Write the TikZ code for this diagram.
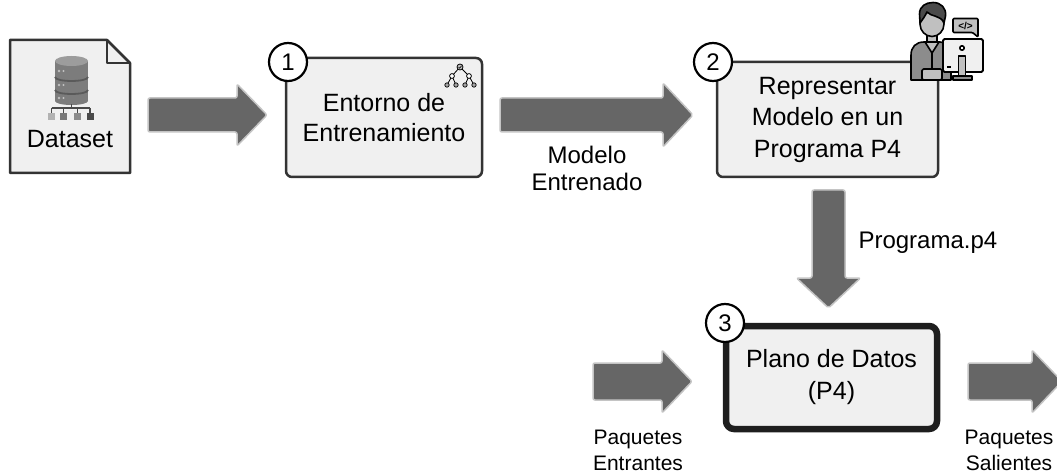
\documentclass[tikz,border=0pt]{standalone}
\usepackage{fontspec}
\setmainfont{Liberation Sans}
\usetikzlibrary{calc}

\definecolor{boxfill}{HTML}{F0F0F0}
\definecolor{boxline}{HTML}{333333}
\definecolor{planeline}{HTML}{1E1E1E}
\definecolor{arrowfill}{HTML}{666666}
\definecolor{arrowedge}{HTML}{C4C4C4}
\definecolor{iconlight}{HTML}{C0C0C0}
\definecolor{iconmid}{HTML}{8C8C8C}
\definecolor{icondark}{HTML}{4A4A4A}
\definecolor{cylbody}{HTML}{7C7C7C}
\definecolor{cyltop}{HTML}{9C9C9C}
\definecolor{cylband}{HTML}{5A5A5A}

\tikzset{
  stepbox/.style={draw=boxline, line width=2.5pt, fill=boxfill, rounded corners=6pt,
    inner sep=0pt, align=center},
  numcircle/.style={circle, draw=black, line width=2.2pt, fill=white, minimum size=38pt,
    inner sep=0pt, font=\fontsize{24}{28}\selectfont},
  bigarrow/.style={fill=arrowfill, draw=arrowedge, line width=1.5pt, rounded corners=2pt,
    line join=round},
  bigtext/.style={font=\fontsize{25}{30}\selectfont, align=center},
  midtext/.style={font=\fontsize{24}{27}\selectfont, align=center},
  smalltext/.style={font=\fontsize{21}{26}\selectfont, align=center},
  iconline/.style={draw=black, line width=1.6pt, line join=round},
}

% fat block arrow pointing right: x start, x tip, y centre, body half, head half
\newcommand\fatarrowright[5]{%
  \filldraw[bigarrow] ({#1},{#3-#4}) -- ({#2-30},{#3-#4}) -- ({#2-30},{#3-#5})
    -- ({#2},{#3}) -- ({#2-30},{#3+#5}) -- ({#2-30},{#3+#4}) -- ({#1},{#3+#4}) -- cycle;}
% fat block arrow pointing down: y start, y tip, x centre, body half, head half
\newcommand\fatarrowdown[5]{%
  \filldraw[bigarrow] ({#3-#4},{#1}) -- ({#3-#4},{#2-30}) -- ({#3-#5},{#2-30})
    -- ({#3},{#2}) -- ({#3+#5},{#2-30}) -- ({#3+#4},{#2-30}) -- ({#3+#4},{#1}) -- cycle;}

\begin{document}
\begin{tikzpicture}[x=1pt,y=-1pt]
\useasboundingbox (0,0) rectangle (1057,473);
\clip (0,0) rectangle (1057,473);

% ---------- dataset document ----------
\filldraw[fill=boxfill, draw=boxline, line width=2.5pt, line join=round]
  (10,40) -- (107,40) -- (130,63) -- (130,173) -- (10,173) -- cycle;
\draw[draw=boxline, line width=2.5pt, line join=round] (107,40) -- (107,63) -- (130,63);
\node[bigtext] (dataset) at (70,139) {Dataset};

% database cylinder
\fill[cylbody] (55,61) rectangle (88,101);
\fill[cylbody] (71.5,101) ellipse [x radius=16.5, y radius=4];
\fill[cyltop] (71.5,61) ellipse [x radius=16.5, y radius=5];
\draw[cylband, line width=1.8pt] (55,77) .. controls (55,82.3) and (88,82.3) .. (88,77);
\draw[cylband, line width=1.8pt] (55,90) .. controls (55,95.3) and (88,95.3) .. (88,90);
\foreach \yy in {71,85,98} {
  \fill[iconlight] (59,\yy) circle (1.3);
  \fill[iconlight] (63.5,\yy) circle (1.1);
}
% distribution tree below the cylinder
\draw[icondark, line width=1.2pt] (71.5,104) -- (71.5,108)
  (51.5,108) -- (90,108)
  (51.5,108) -- (51.5,113) (63.5,108) -- (63.5,113)
  (77.5,108) -- (77.5,113) (90,108) -- (90,113);
\fill[gray!60] (48,113) rectangle (55,120);
\fill[gray!95!black] (60,113) rectangle (67,120);
\fill[gray!90] (74,113) rectangle (81,120);
\fill[icondark] (86.5,113) rectangle (93.5,120);

% ---------- step boxes ----------
\node[stepbox, minimum width=196pt, minimum height=119pt, bigtext] (train) at (384,117.5)
  {Entorno de\\Entrenamiento};
\node[stepbox, minimum width=221pt, minimum height=115pt,
  font=\fontsize{25}{31.5}\selectfont] (p4prog) at (827.5,119.5)
  {Representar\\Modelo en un\\Programa P4};
\node[stepbox, draw=planeline, line width=6.5pt, rounded corners=8pt, minimum width=211pt,
  minimum height=103pt, font=\fontsize{25}{32}\selectfont] (dataplane) at (831.5,377.5)
  {Plano de Datos\\(P4)};

% decision-tree icon in the training box
\draw[black, line width=0.8pt] (460,67) -- (452,76) -- (447,85) (452,76) -- (456,85)
  (460,67) -- (469,76) -- (465,85) (469,76) -- (474,85);
\filldraw[fill=iconlight, draw=black, line width=0.8pt] (460,67) circle (3);
\draw[black, line width=0.6pt] (458.6,67) -- (459.6,68.2) -- (461.6,65.8);
\foreach \px/\py in {452/76, 469/76} {
  \filldraw[fill=white, draw=black, line width=0.8pt] (\px,\py) circle (2.4);
}
\foreach \px in {447,456,465,474} {
  \filldraw[fill=gray!70, draw=black, line width=0.7pt] (\px,85) circle (2.2);
}

% ---------- programmer icon ----------
% torso
\filldraw[fill=iconmid, iconline]
  (911,80) -- (911,55) .. controls (911,47) and (916,42) .. (924,42) -- (940,42)
  .. controls (947,42) and (951,47) .. (951,55) -- (951,80) -- cycle;
% collar
\filldraw[fill=iconlight, iconline] (925,42) -- (932,53) -- (939,42) -- cycle;
\draw[black, line width=1.4pt] (932,53) -- (932,80);
% neck and face
\filldraw[fill=iconlight, iconline] (927,33) rectangle (937,42);
\filldraw[fill=iconlight, iconline] (932,24) ellipse [x radius=12, y radius=12.5];
% hair
\filldraw[fill=icondark, iconline]
  (920,23) -- (919.5,14) .. controls (919.5,6) and (926,2.5) .. (933,2.5)
  .. controls (941,2.5) and (946.5,8) .. (945.5,16) -- (944,23)
  .. controls (941,15) and (931,17) .. (927,12) .. controls (925,16) and (923,19) .. (920,23) -- cycle;
% hands on the desk
\filldraw[fill=iconlight, iconline, rounded corners=1.5pt] (922,69) rectangle (942,80);
% monitor
\filldraw[fill=boxfill, iconline, line width=1.8pt, rounded corners=1.5pt] (943,39) rectangle (983,72);
\filldraw[fill=iconlight, iconline] (958.5,56) rectangle (965.5,76);
\filldraw[fill=iconmid, iconline] (953,76) rectangle (972,80);
\filldraw[fill=white, iconline] (962,48) circle (2.2);
\draw[black, line width=1.6pt] (947,67) -- (951,67);
% speech bubble with code tag
\filldraw[fill=iconlight, iconline, rounded corners=1pt]
  (953,18.5) -- (978,18.5) -- (978,37) -- (972.5,32.5) -- (953,32.5) -- cycle;
\node[font=\fontsize{10}{10}\selectfont\bfseries, inner sep=0pt] (codetag) at (965.5,25.5) {</>};

% ---------- step numbers ----------
\node[numcircle] (n1) at (288,62) {1};
\node[numcircle] (n2) at (713,62) {2};
\node[numcircle] (n3) at (725,323) {3};

% ---------- block arrows ----------
\fatarrowright{148}{267}{115}{17}{31}
\fatarrowright{500}{693}{115}{17}{32}
\fatarrowdown{190}{308}{828.5}{16.5}{32}
\fatarrowright{593}{692}{381.5}{18.5}{31.5}
\fatarrowright{968}{1062}{381.5}{18.5}{31.5}

% ---------- arrow labels ----------
\node[midtext] (trained) at (587,168) {Modelo\\Entrenado};
\node[midtext, anchor=west] (progfile) at (855,243) {Programa.p4};
\node[smalltext] (inpk) at (638,450) {Paquetes\\Entrantes};
\node[smalltext] (outpk) at (1009,450) {Paquetes\\Salientes};
\end{tikzpicture}
\end{document}
